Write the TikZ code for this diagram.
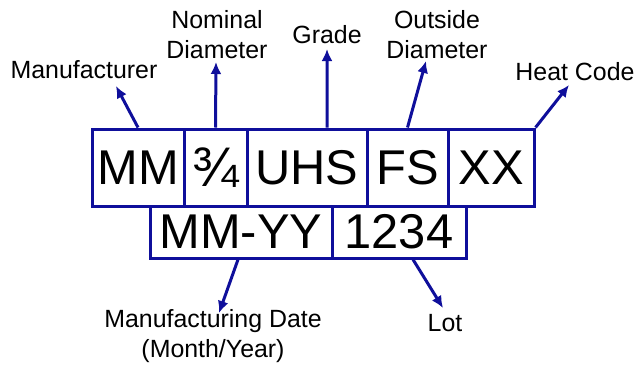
\documentclass[tikz,border=0pt]{standalone}
\usepackage{fontspec}
\setmainfont{Liberation Sans}
\usepackage{tikz}
\usetikzlibrary{arrows.meta}
\definecolor{codeblue}{RGB}{15,15,155}

\begin{document}
\begin{tikzpicture}[x=1bp,y=-1bp]
\tikzset{field/.style = {shape=rectangle,draw=codeblue,line width=3bp,inner sep=0pt,
font=\fontsize{49}{49}\selectfont}}
\tikzset{label/.style = {align=center,font=\fontsize{25}{30}\selectfont}}
\tikzset{edge/.style = {->,> = {Latex[length=12bp,width=11bp]},draw=codeblue,line width=3bp}}
\useasboundingbox (0,0) rectangle (638,372);
% fields
\node[field,minimum width=92bp,minimum height=77bp] (mm) at (138,167.5) {MM};
\node[field,minimum width=63bp,minimum height=77bp] (dia) at (215.5,167.5) {\fontsize{56}{56}\selectfont ¾};
\node[field,minimum width=120bp,minimum height=77bp] (uhs) at (307,167.5) {UHS};
\node[field,minimum width=81bp,minimum height=77bp] (fs) at (407.5,167.5) {FS};
\node[field,minimum width=86bp,minimum height=77bp] (xx) at (491,167.5) {XX};
\node[field,minimum width=182bp,minimum height=52bp] (date) at (241,232) {MM-YY};
\node[field,minimum width=134bp,minimum height=52bp] (lot) at (399,232) {1234};

% labels
\node[label] (lmfr) at (84,70) {Manufacturer};
\node[label] (lnom) at (217,35) {Nominal\\Diameter};
\node[label] (lgrade) at (327,35) {Grade};
\node[label] (lout) at (437,35) {Outside\\Diameter};
\node[label] (lheat) at (575,72) {Heat Code};
\node[label] (ldate) at (213,336) {Manufacturing Date\\(Month/Year)};
\node[label] (llot) at (445,323) {Lot};

% arrow tips
\coordinate (tmfr) at (116,86);
\coordinate (tnom) at (216,62);
\coordinate (tgrade) at (327,49);
\coordinate (tout) at (426,61);
\coordinate (theat) at (569,85);
\coordinate (tdate) at (219,313);
\coordinate (tlot) at (443,308);

%edges
\draw[edge] (mm.north) to (tmfr);
\draw[edge] (dia.north) to (tnom);
\draw[edge] ([xshift=20bp]uhs.north) to (tgrade);
\draw[edge] (fs.north) to (tout);
\draw[edge] (xx.north east) to (theat);
\draw[edge] ([xshift=-3bp]date.south) to (tdate);
\draw[edge] ([xshift=14bp]lot.south) to (tlot);
\end{tikzpicture}
\end{document}
